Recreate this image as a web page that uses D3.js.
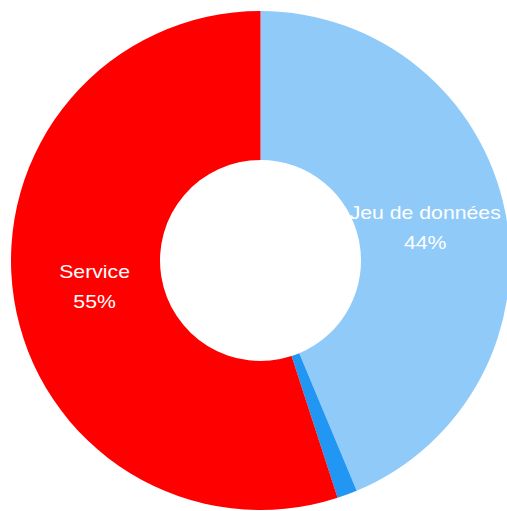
<!DOCTYPE html>
<html lang="fr">
  <head>
    <meta charset="UTF-8" />
    <title>Répartition</title>
    <script src="https://cdnjs.cloudflare.com/ajax/libs/d3/7.8.5/d3.min.js"></script>
    <style>
      body { margin: 0; background: #fff; }
      svg { display: block; }
      .label { font-family: "Liberation Sans", Arial, sans-serif; font-size: 18px; fill: #fff; }
    </style>
  </head>
  <body>
    <figure id="donut" style="margin:0"></figure>

    <script>
      /** Data */
      const categories = ["Jeu de données", "Autre", "Service"];
      const values = [43.7, 1.3, 55.0];
      const colors = ["#90caf9", "#2196f3", "#ff0000"];
      const showLabel = [true, false, true];

      /** Graph configs */
      const width = 507;
      const height = 511;
      const cx = 260.5;
      const cy = 260.5;
      const outerRadius = 249.5;
      const innerRadius = 100.5;
      const labelRadius = 168;
      const lineGap = 30;
      const stretchX = 1.18; // labels look horizontally widened in the original

      const total = d3.sum(values);
      const dataset = categories.map((c, i) => ({ name: c, value: values[i], color: colors[i], show: showLabel[i] }));

      const pie = d3.pie().sort(null).value((d) => d.value);
      const arc = d3.arc().innerRadius(innerRadius).outerRadius(outerRadius);
      const labelArc = d3.arc().innerRadius(labelRadius).outerRadius(labelRadius);

      const svg = d3
        .select("#donut")
        .append("svg")
        .attr("width", width)
        .attr("height", height)
        .append("g")
        .attr("transform", `translate(${cx}, ${cy})`);

      const slices = pie(dataset);

      /** Draw slices */
      svg
        .selectAll("path")
        .data(slices)
        .enter()
        .append("path")
        .attr("d", arc)
        .attr("fill", (d) => d.data.color);

      /** Draw labels */
      const labels = svg
        .selectAll("text")
        .data(slices.filter((d) => d.data.show))
        .enter()
        .append("text")
        .attr("class", "label")
        .attr("text-anchor", "middle")
        .attr("transform", (d) => {
          const [x, y] = labelArc.centroid(d);
          return `translate(${x}, ${y}) scale(${stretchX}, 1)`;
        });

      labels
        .append("tspan")
        .attr("x", 0)
        .attr("y", -lineGap / 2 + 6.5)
        .text((d) => d.data.name);
      labels
        .append("tspan")
        .attr("x", 0)
        .attr("y", lineGap / 2 + 6.5)
        .text((d) => `${Math.round((d.data.value / total) * 100)}%`);
    </script>
  </body>
</html>
